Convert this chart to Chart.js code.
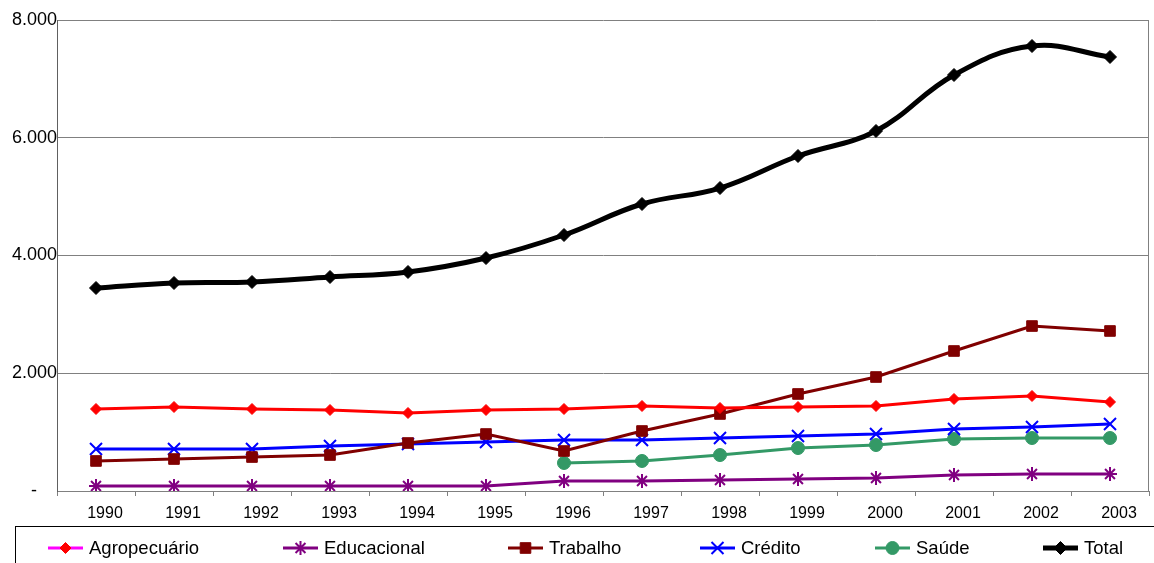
<!DOCTYPE html>
<html>
<head>
<meta charset="utf-8">
<script src="https://cdn.jsdelivr.net/npm/chart.js@4/dist/chart.umd.min.js"></script>
<style>
  html, body { margin: 0; padding: 0; background: #fff; }
  #wrap { width: 1154px; height: 563px; position: relative; }
</style>
</head>
<body>
<div id="wrap"><canvas id="c"></canvas></div>
<script>
// Categories and series values
const years = ['1990','1991','1992','1993','1994','1995','1996','1997','1998','1999','2000','2001','2002','2003'];
const agropecuario = [1393, 1427, 1393, 1376, 1325, 1376, 1393, 1444, 1410, 1427, 1444, 1563, 1614, 1512];
const educacional  = [85, 85, 85, 85, 85, 85, 170, 170, 187, 204, 221, 272, 289, 289];
const trabalho     = [510, 543, 577, 611, 815, 968, 679, 1019, 1308, 1648, 1936, 2378, 2802, 2718];
const credito      = [713, 713, 713, 764, 798, 832, 866, 866, 900, 934, 968, 1053, 1087, 1138];
const saude        = [null, null, null, null, null, null, 476, 510, 611, 730, 781, 883, 900, 900];
const total        = [3448, 3533, 3550, 3635, 3720, 3957, 4348, 4875, 5146, 5690, 6115, 7066, 7558, 7372];
const yTickLabels  = ['-', '2.000', '4.000', '6.000', '8.000'];

const FONT = '"Liberation Sans", Arial, sans-serif';

// Boxed legend along the bottom, plus the right-hand frame line of the plot
const boxedLegend = {
  id: 'boxedLegend',
  afterDraw(chart) {
    const ctx = chart.ctx;
    const area = chart.chartArea;
    ctx.save();
    ctx.strokeStyle = '#808080';
    ctx.lineWidth = 1;
    ctx.beginPath();
    ctx.moveTo(Math.round(area.right) - 0.5, area.top);
    ctx.lineTo(Math.round(area.right) - 0.5, area.bottom);
    ctx.stroke();

    ctx.strokeStyle = '#000';
    ctx.strokeRect(15.5, 526.5, 1200, 60);

    const xs = [48, 283, 508, 700, 875, 1043];
    const y = 548;
    chart.data.datasets.forEach((ds, i) => {
      const x = xs[i];
      ctx.strokeStyle = ds.keyLineColor || ds.borderColor;
      ctx.lineWidth = ds.borderWidth;
      ctx.beginPath();
      ctx.moveTo(x, y);
      ctx.lineTo(x + 35, y);
      ctx.stroke();
      ctx.fillStyle = ds.pointBackgroundColor;
      ctx.strokeStyle = ds.pointBorderColor;
      ctx.lineWidth = ds.pointBorderWidth;
      Chart.helpers.drawPoint(ctx, {
        pointStyle: ds.pointStyle,
        radius: ds.pointRadius,
        borderWidth: ds.pointBorderWidth,
        rotation: 0
      }, x + 17.5, y);
      ctx.fillStyle = '#000';
      ctx.font = '18.5px ' + FONT;
      ctx.textAlign = 'left';
      ctx.textBaseline = 'middle';
      ctx.fillText(ds.label, x + 41, y + 1);
    });
    ctx.restore();
  }
};

function series(label, data, color, style, radius, extra) {
  return Object.assign({
    label: label,
    data: data,
    borderColor: color,
    backgroundColor: color,
    borderWidth: 3,
    pointStyle: style,
    pointRadius: radius,
    pointHoverRadius: radius,
    pointBackgroundColor: color,
    pointBorderColor: color,
    pointBorderWidth: 1,
    tension: 0,
    fill: false,
    spanGaps: false
  }, extra || {});
}

new Chart(document.getElementById('c'), {
  type: 'line',
  data: {
    labels: years,
    datasets: [
      series('Agropecuário', agropecuario, '#FF0000', 'rectRot', 5.5, { keyLineColor: '#FF00FF' }),
      series('Educacional', educacional, '#800080', 'star', 7, { pointBorderWidth: 2 }),
      series('Trabalho', trabalho, '#800000', 'rect', 7.5),
      series('Crédito', credito, '#0000FF', 'crossRot', 8.5, { pointBorderWidth: 2 }),
      series('Saúde', saude, '#339966', 'circle', 6.5),
      series('Total', total, '#000000', 'rectRot', 6.5, { borderWidth: 5, tension: 0.4 })
    ]
  },
  options: {
    responsive: true,
    maintainAspectRatio: false,
    animation: false,
    events: [],
    layout: { autoPadding: false, padding: { top: 20, right: 0, bottom: 0, left: 0 } },
    plugins: {
      legend: { display: false },
      tooltip: { enabled: false },
      title: { display: false }
    },
    scales: {
      x: {
        offset: true,
        grid: {
          offset: true,
          drawOnChartArea: false,
          drawTicks: true,
          tickLength: 5,
          color: '#808080'
        },
        border: { display: true, color: '#808080', width: 1 },
        ticks: {
          color: '#000',
          font: { family: FONT, size: 16 },
          padding: 8,
          labelOffset: 9,
          maxRotation: 0,
          autoSkip: false
        },
        afterFit(scale) {
          scale.height = 72;
          scale.paddingLeft = 0;
          scale.paddingRight = 5;
        }
      },
      y: {
        min: 0,
        max: 8000,
        grid: { color: '#808080', drawTicks: false, lineWidth: 1 },
        border: { display: true, color: '#606060', width: 1 },
        ticks: {
          stepSize: 2000,
          padding: 0,
          color: '#000',
          font: { family: FONT, size: 18 },
          callback: (v, i) => {
            const t = yTickLabels[i];
            return t === '-' ? '-    ' : t;
          }
        },
        afterFit(scale) { scale.width = 57; }
      }
    }
  },
  plugins: [boxedLegend]
});
</script>
</body>
</html>
